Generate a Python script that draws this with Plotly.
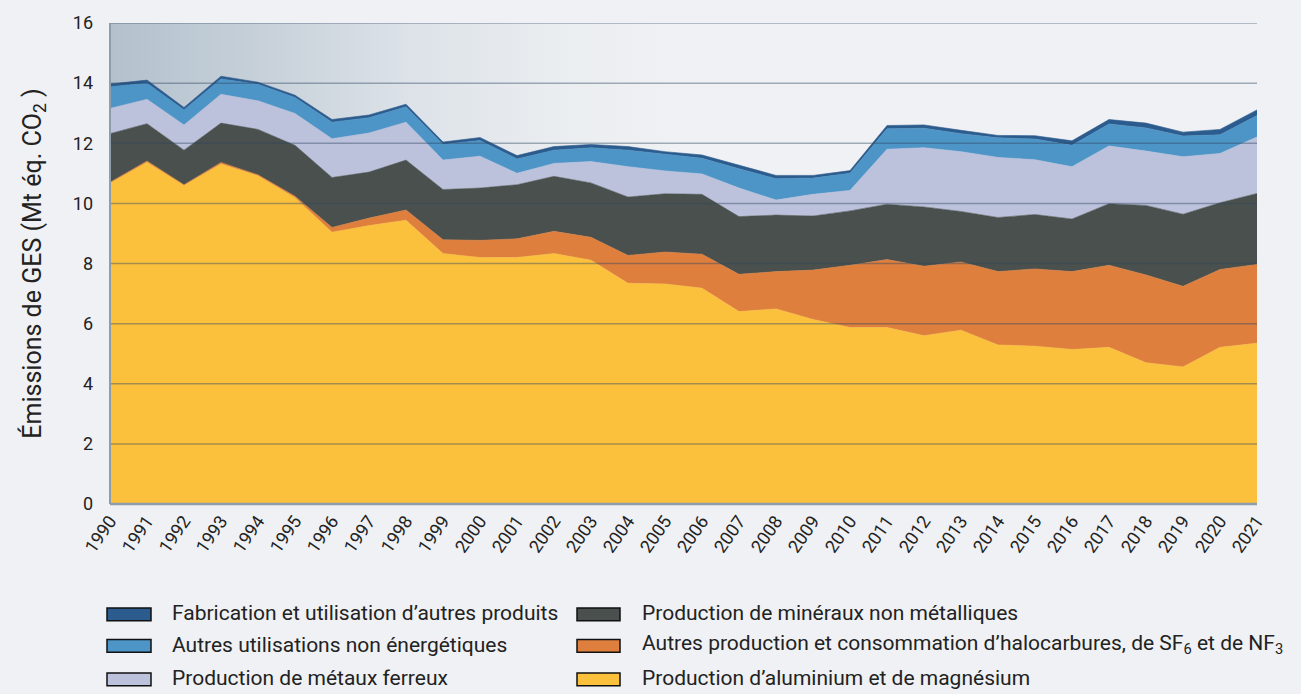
import plotly.graph_objects as go

years = list(range(1990, 2022))

# Série (Mt éq. CO2), de bas en haut de l'empilement
aluminium = [10.68, 11.37, 10.60, 11.31, 10.92, 10.19, 9.04, 9.26, 9.44, 8.33,
             8.20, 8.20, 8.33, 8.11, 7.34, 7.32, 7.18, 6.40, 6.49, 6.14,
             5.87, 5.87, 5.60, 5.78, 5.29, 5.25, 5.14, 5.21, 4.70, 4.56,
             5.21, 5.35]
halocarbures = [0.02, 0.04, 0.02, 0.05, 0.03, 0.05, 0.16, 0.25, 0.34, 0.46,
                0.57, 0.62, 0.74, 0.76, 0.93, 1.06, 1.13, 1.24, 1.24, 1.64,
                2.07, 2.26, 2.31, 2.27, 2.44, 2.57, 2.59, 2.73, 2.92, 2.68,
                2.59, 2.62]
mineraux = [1.62, 1.24, 1.15, 1.31, 1.51, 1.69, 1.66, 1.53, 1.66, 1.67,
            1.74, 1.80, 1.83, 1.81, 1.94, 1.94, 1.99, 1.92, 1.88, 1.80,
            1.81, 1.84, 1.97, 1.68, 1.80, 1.81, 1.75, 2.05, 2.31, 2.40,
            2.22, 2.36]
metaux_ferreux = [0.84, 0.81, 0.84, 0.96, 0.95, 1.06, 1.29, 1.30, 1.26, 0.98,
                  1.06, 0.38, 0.43, 0.71, 1.01, 0.76, 0.68, 0.95, 0.50, 0.72,
                  0.68, 1.83, 1.97, 1.99, 2.00, 1.82, 1.74, 1.92, 1.81, 1.91,
                  1.64, 1.88]
autres_utilisations = [0.72, 0.54, 0.50, 0.51, 0.55, 0.53, 0.55, 0.51, 0.51, 0.52,
                       0.52, 0.48, 0.44, 0.46, 0.55, 0.55, 0.52, 0.64, 0.71, 0.54,
                       0.57, 0.68, 0.65, 0.60, 0.65, 0.69, 0.71, 0.73, 0.77, 0.69,
                       0.62, 0.71]
fabrication = [0.09, 0.10, 0.08, 0.09, 0.07, 0.08, 0.09, 0.09, 0.09, 0.08,
               0.10, 0.11, 0.12, 0.11, 0.12, 0.09, 0.11, 0.11, 0.11, 0.09,
               0.09, 0.11, 0.11, 0.11, 0.08, 0.11, 0.15, 0.15, 0.16, 0.13,
               0.18, 0.19]

series_names = [
    "Production d’aluminium et de magnésium",
    "Autres production et consommation d’halocarbures, de SF<sub>6</sub> et de NF<sub>3</sub>",
    "Production de minéraux non métalliques",
    "Production de métaux ferreux",
    "Autres utilisations non énergétiques",
    "Fabrication et utilisation d’autres produits",
]
series_values = [aluminium, halocarbures, mineraux, metaux_ferreux,
                 autres_utilisations, fabrication]
series_colors = ["#FBC13D", "#DF7F3E", "#4A504D", "#BDC2DC", "#4E95C7", "#2C5B8D"]

y_ticks = [0, 2, 4, 6, 8, 10, 12, 14, 16]
x_tick_labels = [str(y) for y in years]

W, H = 1301, 694
L, R, T, B = 110, 44, 16, 190
PW, PH = W - L - R, H - T - B
BG = "#EFF1F4"

def px(x):
    return (x - L) / PW

def py(y):
    return (H - B - y) / PH

fig = go.Figure()

# background gradient (top-left)
fig.add_trace(go.Scatter(
    x=[years[0], years[-1]], y=[y_ticks[-1], y_ticks[-1]],
    fill="tozeroy", mode="none", showlegend=False, hoverinfo="skip",
    fillgradient=dict(type="horizontal",
                      colorscale=[[0, "#B3C1CD"], [0.12, "#C5CFD8"],
                                  [0.26, "#DCE2E8"], [0.40, "#EBEEF1"],
                                  [0.5, BG], [1, BG]]),
))

for name, vals, col in zip(series_names, series_values, series_colors):
    fig.add_trace(go.Scatter(
        x=years, y=vals, name=name, stackgroup="one", mode="lines",
        line=dict(width=0.6, color=col), fillcolor=col, showlegend=False,
    ))

shapes = []
# gridlines above the areas
for t in y_ticks[1:]:
    shapes.append(dict(type="line", xref="paper", x0=0, x1=1, yref="y", y0=t, y1=t,
                       line=dict(color="rgba(45,70,95,0.42)", width=1.5), layer="above"))
# left and bottom frame
shapes.append(dict(type="line", xref="paper", x0=0, x1=0, yref="paper", y0=0, y1=1,
                   line=dict(color="#8C9DAC", width=2), layer="above"))
shapes.append(dict(type="line", xref="paper", x0=0, x1=1, yref="paper", y0=0, y1=0,
                   line=dict(color="#8C9DAC", width=2.5), layer="above"))

# manual legend (2 columns x 3 rows)
legend_order = [5, 4, 3, 2, 1, 0]
col_box_x = [(107, 151), (577, 620)]
col_text_x = [170, 640]
row_y = [616, 648, 682]
annotations = []
for k, idx in enumerate(legend_order):
    c, r = divmod(k, 3)
    bx0, bx1 = col_box_x[c]
    cy = row_y[r]
    shapes.append(dict(type="rect", xref="paper", yref="paper",
                       x0=px(bx0), x1=px(bx1), y0=py(cy - 6.5), y1=py(cy + 6.5),
                       fillcolor=series_colors[idx], line=dict(color="#111", width=1.5)))
    annotations.append(dict(xref="paper", yref="paper", x=px(col_text_x[c]), y=py(cy - 1),
                            xanchor="left", yanchor="middle", showarrow=False,
                            text=series_names[idx],
                            font=dict(family="Roboto, sans-serif", size=21, color="#222")))

fig.update_layout(
    width=W, height=H,
    margin=dict(l=L, r=R, t=T, b=B),
    paper_bgcolor=BG, plot_bgcolor=BG,
    showlegend=False,
    shapes=shapes, annotations=annotations,
    font=dict(family="Roboto, sans-serif", color="#222"),
    xaxis=dict(range=[years[0], years[-1]], tickmode="array", tickvals=years,
               ticktext=x_tick_labels, tickangle=-55, showgrid=False, zeroline=False,
               ticks="", ticklabelstandoff=2,
               tickfont=dict(family="Liberation Sans Narrow, Roboto, sans-serif", size=18, color="#222")),
    yaxis=dict(range=[y_ticks[0], y_ticks[-1]], tickmode="array", tickvals=y_ticks,
               showgrid=False, zeroline=False, ticks="", ticklabelstandoff=16,
               tickfont=dict(size=18, color="#222"),
               title=dict(text="Émissions de GES (Mt éq. CO<sub>2</sub> )", standoff=24,
                          font=dict(size=25, color="#222"))),
)

fig.write_html(
    "out.html",
    config={"displayModeBar": False},
    post_script="document.body.style.margin='0';document.body.style.background='" + BG + "';",
)
